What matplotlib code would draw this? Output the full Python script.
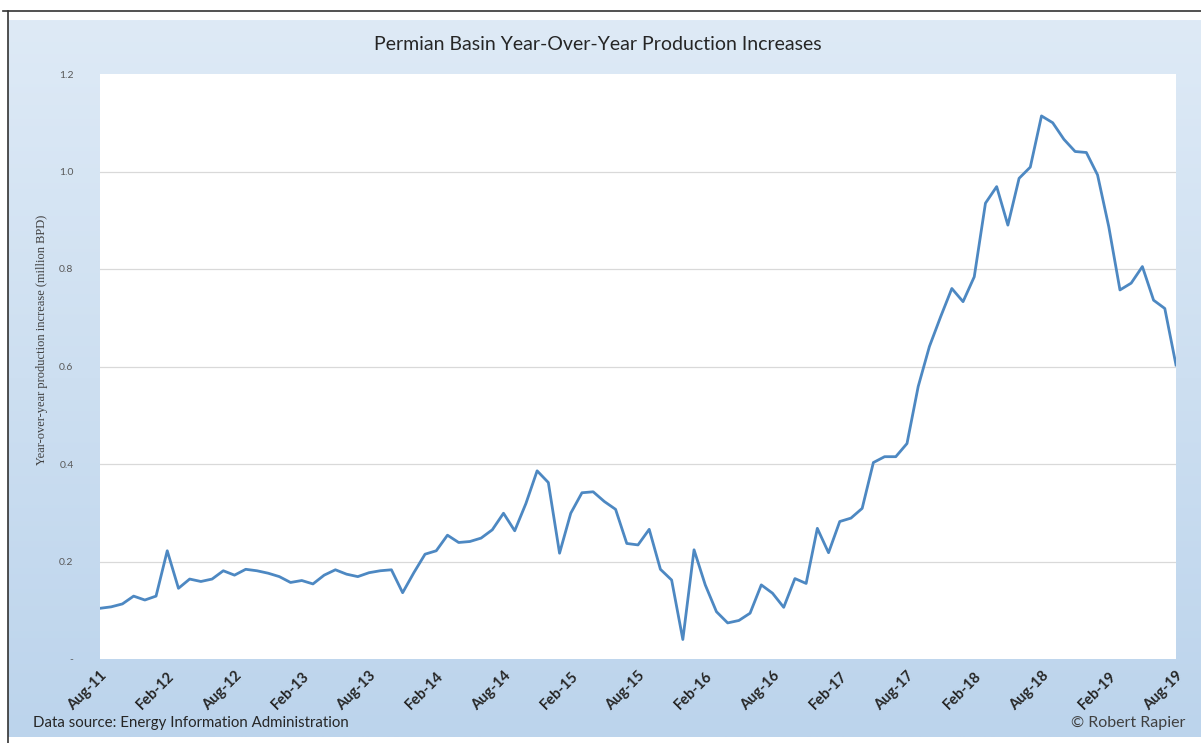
import numpy as np
import matplotlib
matplotlib.use("Agg")
import matplotlib.pyplot as plt
from matplotlib.lines import Line2D

# ---- data (monthly, Aug-2011 .. Aug-2019), million BPD ----
values = [
    0.104, 0.107, 0.113, 0.129, 0.121, 0.129,   # Aug-11 .. Jan-12
    0.222, 0.145, 0.164, 0.159, 0.164, 0.181,   # Feb-12 .. Jul-12
    0.172, 0.184, 0.181, 0.176, 0.169, 0.157,   # Aug-12 .. Jan-13
    0.161, 0.154, 0.172, 0.183, 0.174, 0.169,   # Feb-13 .. Jul-13
    0.177, 0.181, 0.183, 0.136, 0.177, 0.215,   # Aug-13 .. Jan-14
    0.222, 0.254, 0.239, 0.241, 0.248, 0.265,   # Feb-14 .. Jul-14
    0.299, 0.263, 0.319, 0.386, 0.362, 0.217,   # Aug-14 .. Jan-15
    0.299, 0.341, 0.343, 0.323, 0.307, 0.237,   # Feb-15 .. Jul-15
    0.234, 0.266, 0.184, 0.162, 0.040, 0.224,   # Aug-15 .. Jan-16
    0.152, 0.097, 0.074, 0.079, 0.094, 0.152,   # Feb-16 .. Jul-16
    0.135, 0.106, 0.165, 0.155, 0.268, 0.218,   # Aug-16 .. Jan-17
    0.282, 0.289, 0.309, 0.403, 0.415, 0.415,   # Feb-17 .. Jul-17
    0.442, 0.559, 0.641, 0.702, 0.760, 0.733,   # Aug-17 .. Jan-18
    0.784, 0.935, 0.969, 0.890, 0.986, 1.009,   # Feb-18 .. Jul-18
    1.114, 1.100, 1.066, 1.041, 1.039, 0.993,   # Aug-18 .. Jan-19
    0.887, 0.757, 0.771, 0.805, 0.736, 0.719,   # Feb-19 .. Jul-19
    0.603,                                      # Aug-19
]
tick_labels = ["Aug-11", "Feb-12", "Aug-12", "Feb-13", "Aug-13", "Feb-14",
               "Aug-14", "Feb-15", "Aug-15", "Feb-16", "Aug-16", "Feb-17",
               "Aug-17", "Feb-18", "Aug-18", "Feb-19", "Aug-19"]
y_ticks = [0.0, 0.2, 0.4, 0.6, 0.8, 1.0, 1.2]
y_tick_labels = ["-", "0.2", "0.4", "0.6", "0.8", "1.0", "1.2"]

title = "Permian Basin Year-Over-Year Production Increases"
ylabel = "Year-over-year production increase (million BPD)"
source = "Data source: Energy Information Administration"
credit = "\u00a9 Robert Rapier"

FONT = ["Lato", "DejaVu Sans"]

W, H = 1201, 743
fig = plt.figure(figsize=(W / 100, H / 100), dpi=100)
fig.patch.set_facecolor("white")

# ---- gradient background (Excel-like) ----
bg = fig.add_axes([8 / W, (H - 737) / H, (W - 8) / W, (737 - 20) / H])
bg.set_axis_off()
top = np.array([222, 234, 246]) / 255.0
bot = np.array([188, 212, 236]) / 255.0
t = np.linspace(0, 1, 256)[:, None]
grad = top[None, :] * (1 - t) + bot[None, :] * t
img = np.repeat(grad[:, None, :], 2, axis=1)
bg.imshow(img, aspect="auto", extent=[0, 1, 0, 1], origin="upper")
bg.set_xlim(0, 1)
bg.set_ylim(0, 1)

# border lines
fig.add_artist(Line2D([3 / W, 1.0], [1 - 11 / H, 1 - 11 / H], color="#333333", lw=1.2))
fig.add_artist(Line2D([7.5 / W, 7.5 / W], [0, 1 - 11 / H], color="#333333", lw=1.2))

# ---- main axes ----
left, right, ybot, ytop = 100, 1176, 659, 74
ax = fig.add_axes([left / W, (H - ybot) / H, (right - left) / W, (ybot - ytop) / H])
ax.set_facecolor("white")
x = np.arange(len(values))
ax.plot(x, values, color="#4d88c2", lw=2.0, solid_joinstyle="round", zorder=3)
ax.set_xlim(0, len(values) - 1)
ax.set_ylim(0, 1.2)
ax.set_yticks(y_ticks)
ax.set_yticklabels(y_tick_labels, fontsize=7.5, color="#595959", family=FONT)
for v in y_ticks[1:-1]:
    ax.axhline(v, color="#d9d9d9", lw=0.9, zorder=1)
for s in ax.spines.values():
    s.set_visible(False)
ax.tick_params(axis="y", length=0, pad=19)
ax.set_xticks(np.arange(0, len(values), 6))
ax.set_xticklabels(tick_labels, rotation=45, ha="right", va="top",
                   rotation_mode="anchor", fontsize=10.5, fontweight="bold",
                   color="#262626", family=FONT)
ax.tick_params(axis="x", length=0, pad=7)

fig.text(42 / W, 1 - 340 / H, ylabel, rotation=90, ha="center", va="center",
         fontsize=9, color="#404040", family=["Liberation Serif", "DejaVu Serif"])

fig.text(598 / W, 1 - 45 / H, title, ha="center", va="center",
         fontsize=14, color="#262626", family=FONT)
fig.text(33 / W, 1 - 723 / H, source, ha="left", va="center",
         fontsize=10.8, color="#262626", family=FONT)
fig.text(1185 / W, 1 - 723 / H, credit, ha="right", va="center",
         fontsize=11.5, color="#404040", family=FONT)

fig.savefig("out.png", dpi=100)
